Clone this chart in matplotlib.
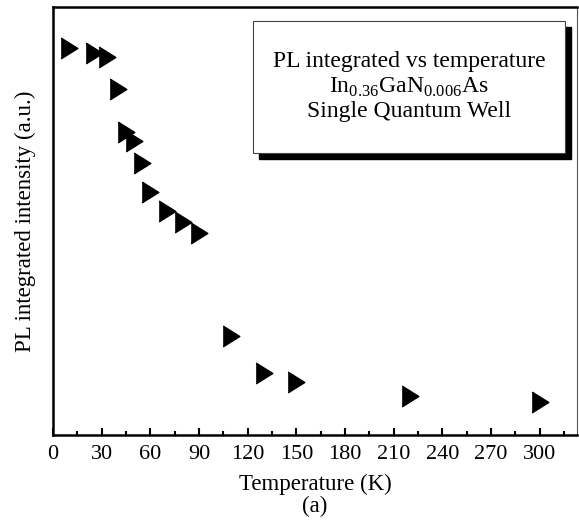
import matplotlib
matplotlib.use("Agg")
import matplotlib.pyplot as plt
from matplotlib.patches import Rectangle
import numpy as np

plt.rcParams['font.family'] = ['Liberation Serif', 'DejaVu Serif']
plt.rcParams['mathtext.fontset'] = 'custom'
plt.rcParams['mathtext.rm'] = 'Liberation Serif'

# data (intensity in arbitrary units)
temperature = [10, 25, 33, 40, 45, 50, 55, 60, 70, 80, 90, 110, 130, 150, 220, 300]
intensity = [0.904, 0.893, 0.883, 0.808, 0.708, 0.687, 0.636, 0.568,
             0.523, 0.498, 0.472, 0.231, 0.146, 0.123, 0.092, 0.076]
xticks_major = list(range(0, 301, 30))
xticks_minor = list(range(15, 316, 30))

fig = plt.figure(figsize=(5.79, 5.24), dpi=100)
ax = fig.add_axes([0.0915, 0.1698, 0.905, 0.817])

tri = [(-0.8, 1), (0.8, 0), (-0.8, -1)]
ax.plot(temperature, intensity, linestyle='none', marker=tri,
        markersize=15, color='black')

ax.set_xlim(0, 323)
ax.set_ylim(0, 1)
ax.set_xticks(xticks_major)
ax.set_xticks(xticks_minor, minor=True)
ax.set_yticks([])
ax.tick_params(axis='x', which='major', direction='in', length=5, width=1.5,
               labelsize=16, pad=7)
ax.tick_params(axis='x', which='minor', direction='in', length=3, width=1.5)

for side in ['left', 'bottom', 'top']:
    ax.spines[side].set_linewidth(1.8)
ax.spines['right'].set_linewidth(0.8)
ax.spines['right'].set_color('#555555')

ax.set_xlabel('Temperature (K)\n(a)', fontsize=16.5, labelpad=7, linespacing=1.05)
ax.set_ylabel('PL integrated intensity (a.u.)', fontsize=16.5, labelpad=12)

# legend-like text box with drop shadow
bx, by, bw, bh = 0.382, 0.659, 0.595, 0.308
ax.add_patch(Rectangle((bx + 0.012, by - 0.015), bw, bh, transform=ax.transAxes,
                       facecolor='black', edgecolor='black', zorder=3))
ax.add_patch(Rectangle((bx, by), bw, bh, transform=ax.transAxes,
                       facecolor='white', edgecolor='#444444', linewidth=0.8, zorder=4))
cx = bx + bw / 2
ax.text(cx, 0.872, 'PL integrated vs temperature', transform=ax.transAxes,
        ha='center', va='center', fontsize=17, zorder=5)
ax.text(cx, 0.812, r'In$_{0.36}$GaN$_{0.006}$As', transform=ax.transAxes,
        ha='center', va='center', fontsize=17, zorder=5)
ax.text(cx, 0.756, 'Single Quantum Well', transform=ax.transAxes,
        ha='center', va='center', fontsize=17, zorder=5)

fig.savefig('out.png', dpi=100)
